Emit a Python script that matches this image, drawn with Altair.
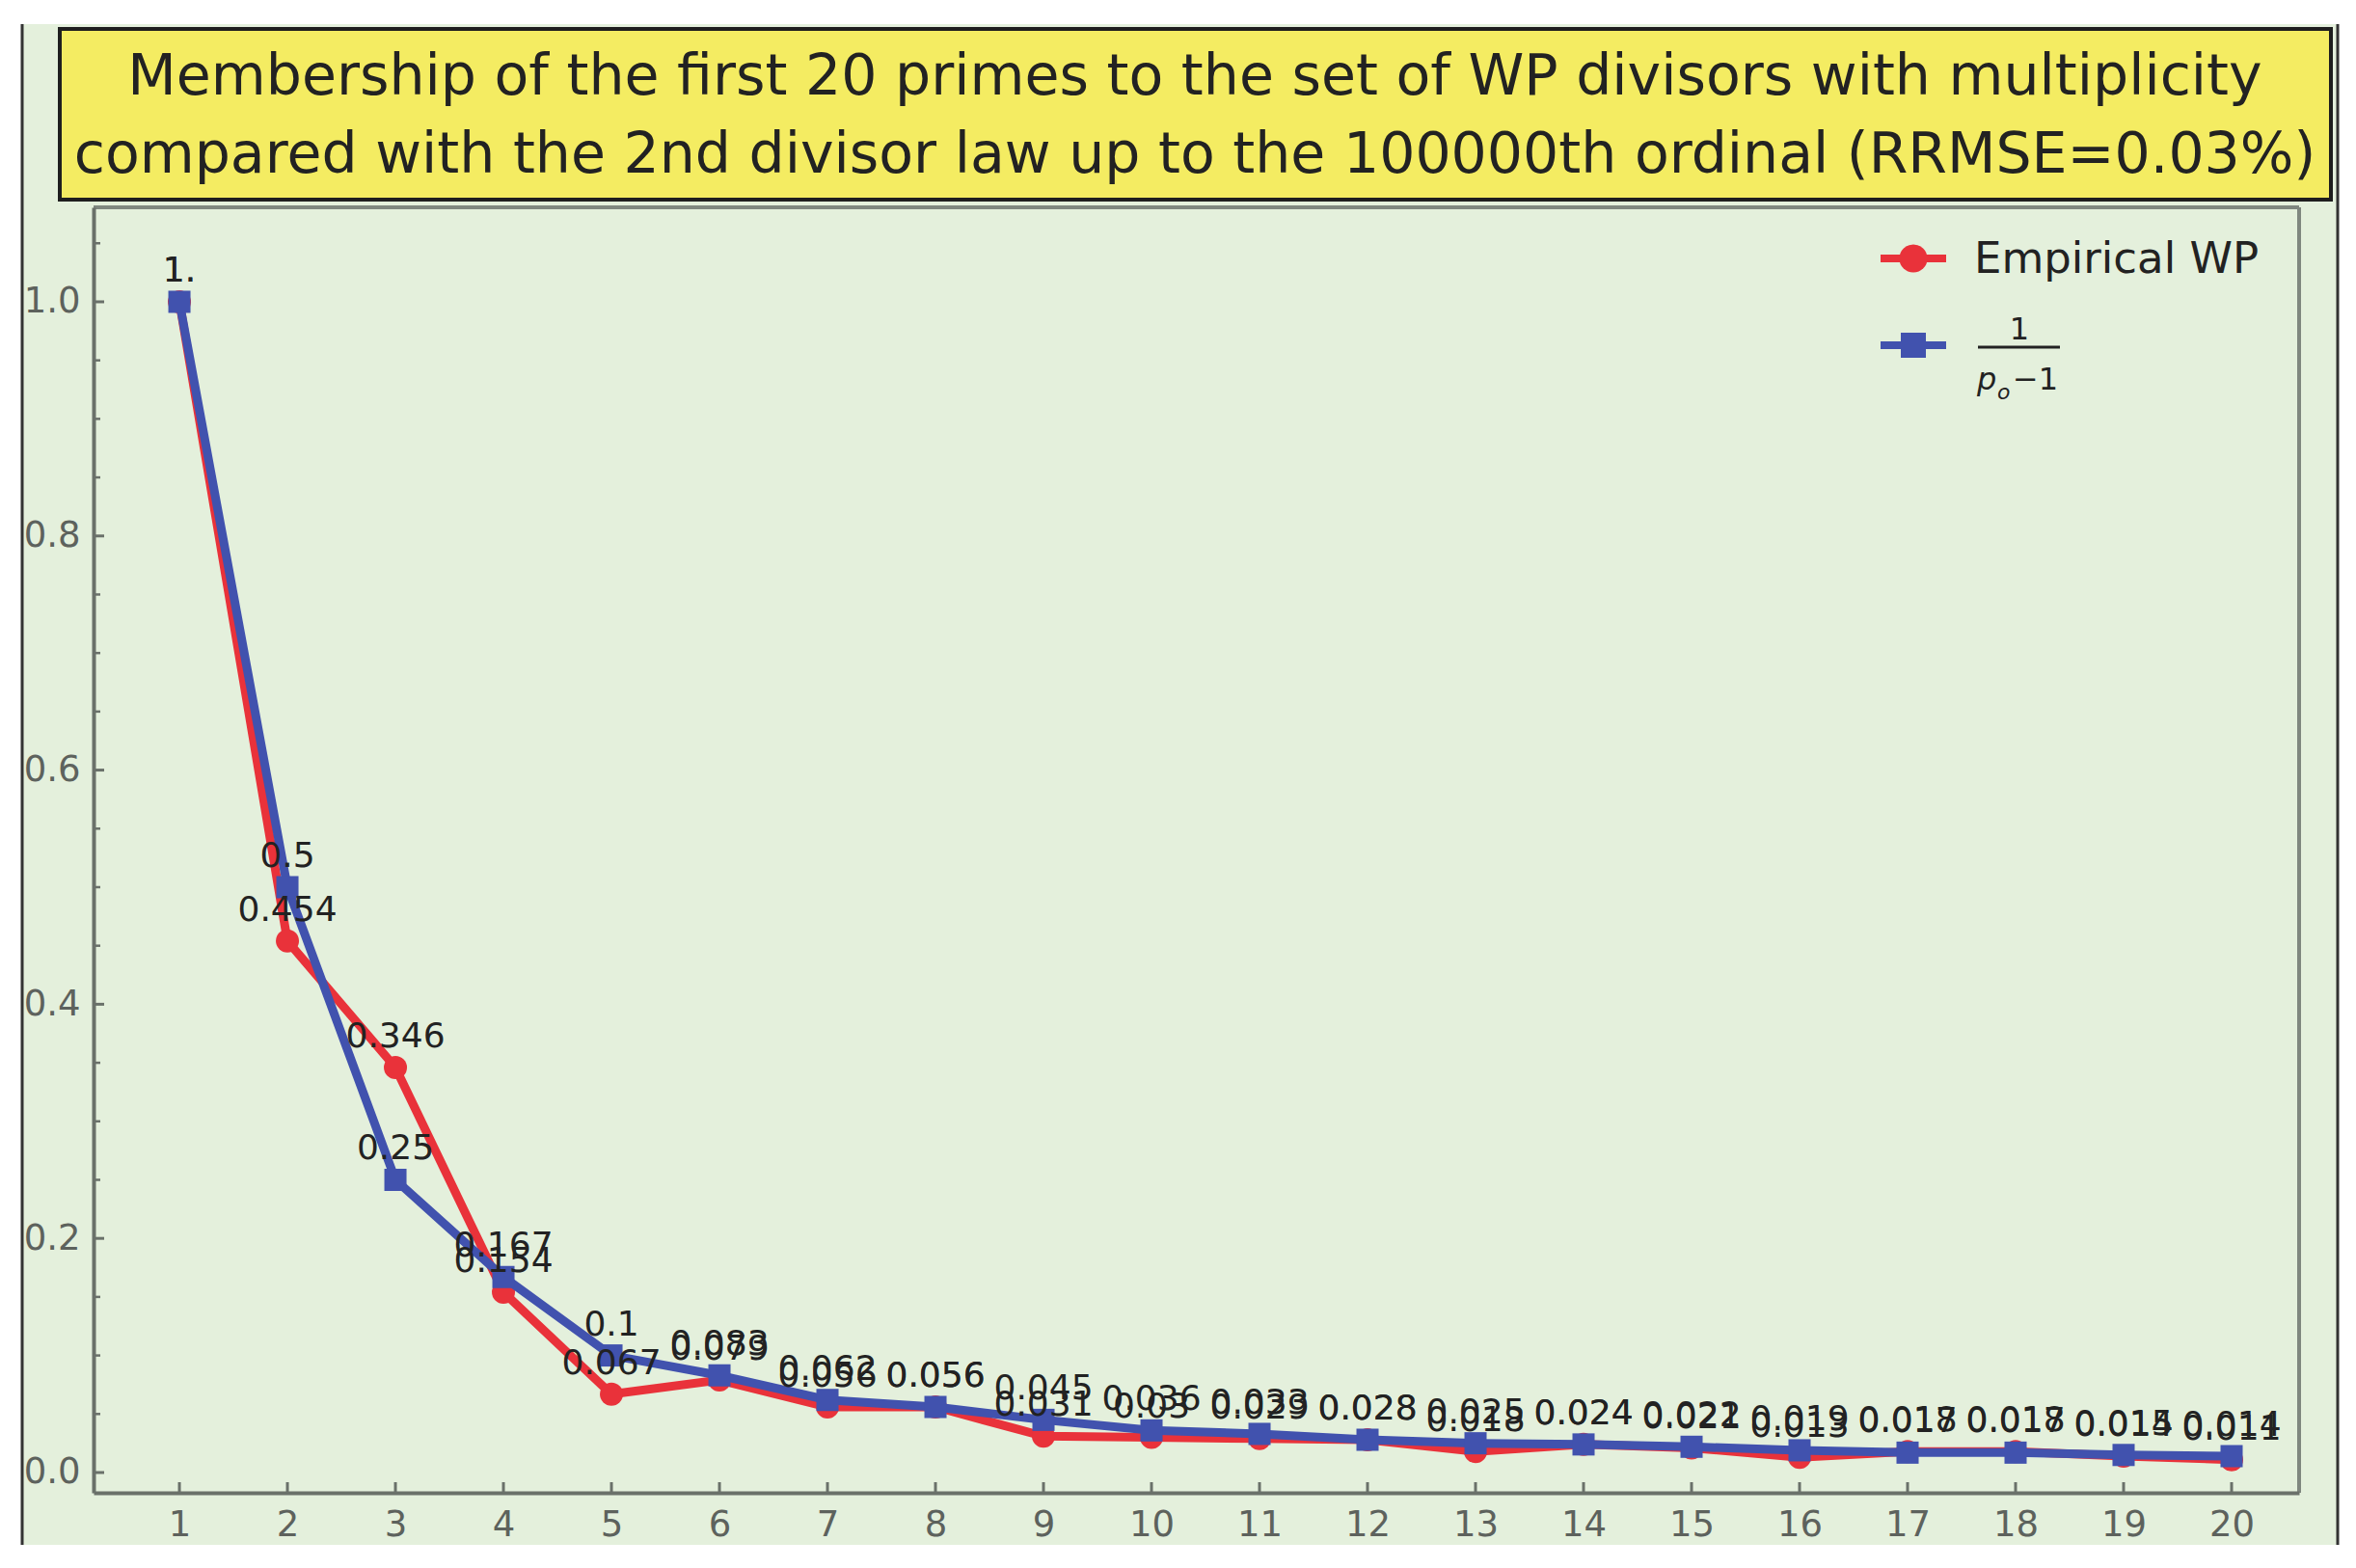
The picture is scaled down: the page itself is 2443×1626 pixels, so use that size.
import altair as alt
import pandas as pd

# ---------------- data ----------------
ordinals = list(range(1, 21))
empirical_wp = [1.0, 0.454, 0.346, 0.154, 0.067, 0.079, 0.056, 0.056, 0.031, 0.030,
                0.029, 0.028, 0.018, 0.024, 0.021, 0.013, 0.018, 0.018, 0.014, 0.011]
divisor_law = [1.0, 0.5, 0.25, 0.167, 0.1, 0.083, 0.062, 0.056, 0.045, 0.036,
               0.033, 0.028, 0.025, 0.024, 0.022, 0.019, 0.017, 0.017, 0.015, 0.014]
y_major = [0.0, 0.2, 0.4, 0.6, 0.8, 1.0]
y_minor = [0.05, 0.1, 0.15, 0.25, 0.3, 0.35, 0.45, 0.5, 0.55, 0.65, 0.7, 0.75,
           0.85, 0.9, 0.95, 1.05]
title_lines = ["Membership of the first 20 primes to the set of WP divisors with multiplicity",
               "compared with the 2nd divisor law up to the 100000th ordinal (RRMSE=0.03%)"]
legend_empirical = "Empirical WP"

# ---------------- style ----------------
RED = "#e9323a"
BLUE = "#4152ae"
GREEN = "#e4f0dc"
YELLOW = "#f4ec62"
TXT = "#222222"
AXC = "#6a716a"
LBL = "#5d625d"
FONT = "DejaVu Sans"
W, H = 2287, 1333
PAD = {"left": 89, "top": 207, "right": 48, "bottom": 60}


def fmt(v):
    return f"{v:.3f}".rstrip("0")


df_red = pd.DataFrame({"ordinal": ordinals, "value": empirical_wp})
df_red["label"] = df_red["value"].map(fmt)
df_blue = pd.DataFrame({"ordinal": ordinals, "value": divisor_law})
df_blue["label"] = df_blue["value"].map(fmt)

xs = alt.Scale(domain=[0.205, 20.625], nice=False, zero=False)
ys = alt.Scale(domain=[-0.0173, 1.0807], nice=False, zero=False)

xaxis = alt.Axis(values=ordinals, format="d", ticks=False, tickSize=0, labelPadding=15,
                 labelFontSize=37, labelFont=FONT, labelColor=LBL, domainColor=AXC,
                 domainWidth=4, grid=False, title=None, zindex=2, labelOverlap=False,
                 labelFlush=False)
yaxis = alt.Axis(values=y_major, format=".1f", ticks=False, tickSize=0, labelPadding=14,
                 labelFontSize=37, labelFont=FONT, labelColor=LBL, domainColor=AXC,
                 domainWidth=4, grid=False, title=None, zindex=2, labelOverlap=False,
                 labelFlush=False)

one = pd.DataFrame({"d": [0]})


def deco_rect(x, x2, y, y2, **kw):
    return alt.Chart(one).mark_rect(**kw).encode(
        x=alt.value(x), x2=alt.value(x2), y=alt.value(y), y2=alt.value(y2))


def deco_rule(x, x2, y, y2, color, width):
    return alt.Chart(one).mark_rule(color=color, strokeWidth=width).encode(
        x=alt.value(x), x2=alt.value(x2), y=alt.value(y), y2=alt.value(y2))


def deco_text(txt, x, y, size, align="center", style="normal", color=TXT):
    return alt.Chart(pd.DataFrame({"t": [txt]})).mark_text(
        font=FONT, fontSize=size, align=align, baseline="alphabetic", color=color,
        fontStyle=style).encode(x=alt.value(x), y=alt.value(y), text="t:N")


L, T = -PAD["left"], -PAD["top"]
R, B = W + PAD["right"], H + PAD["bottom"]
GL, GR, GT, GB = -74, 2327, -190, 1387

layers = []
# white page margins around the green panel, and its side borders
layers.append(deco_rect(L, GL, T, B, color="white"))
layers.append(deco_rect(GR, R, T, B, color="white"))
layers.append(deco_rect(L, R, T, GT, color="white"))
layers.append(deco_rect(L, R, GB, B, color="white"))
layers.append(deco_rule(GL, GL, GT, GB, "#333333", 3))
layers.append(deco_rule(GR, GR, GT, GB, "#333333", 3))
# title box
layers.append(deco_rect(-35, 2320, -185, -8, fill=YELLOW, stroke="#1e1e1e", strokeWidth=4))
layers.append(deco_text(title_lines[0], 1142, -117, 58.5))
layers.append(deco_text(title_lines[1], 1142, -36, 58.5))
# plot frame (top, right)
layers.append(deco_rule(0, W, 0, 0, "#7f877f", 4))
layers.append(deco_rule(W, W, 0, H, "#7f877f", 4))

# inward ticks
layers.append(alt.Chart(pd.DataFrame({"value": y_major})).mark_rule(color=AXC, strokeWidth=3).encode(
    y=alt.Y("value:Q", scale=ys, axis=yaxis), x=alt.value(0), x2=alt.value(11)))
layers.append(alt.Chart(pd.DataFrame({"value": y_minor})).mark_rule(color=AXC, strokeWidth=2.5).encode(
    y=alt.Y("value:Q", scale=ys, axis=yaxis), x=alt.value(0), x2=alt.value(7)))
layers.append(alt.Chart(pd.DataFrame({"ordinal": ordinals})).mark_rule(color=AXC, strokeWidth=3).encode(
    x=alt.X("ordinal:Q", scale=xs, axis=xaxis), y=alt.value(H), y2=alt.value(H - 11)))

# series
enc = dict(x=alt.X("ordinal:Q", scale=xs, axis=xaxis),
           y=alt.Y("value:Q", scale=ys, axis=yaxis))
layers.append(alt.Chart(df_red).mark_line(color=RED, strokeWidth=9).encode(**enc))
layers.append(alt.Chart(df_red).mark_point(shape="circle", filled=True, size=576, color=RED,
                                           opacity=1).encode(**enc))
layers.append(alt.Chart(df_blue).mark_line(color=BLUE, strokeWidth=9).encode(**enc))
layers.append(alt.Chart(df_blue).mark_point(shape="square", filled=True, size=529, color=BLUE,
                                            opacity=1).encode(**enc))
# value labels
layers.append(alt.Chart(df_red).mark_text(font=FONT, fontSize=36, color=TXT, dy=-32).encode(
    text="label:N", **enc))
layers.append(alt.Chart(df_blue).mark_text(font=FONT, fontSize=36, color=TXT, dy=-32).encode(
    text="label:N", **enc))

# legend
layers.append(deco_rule(1853, 1921, 53, 53, RED, 8))
layers.append(alt.Chart(one).mark_point(shape="circle", filled=True, size=850, color=RED,
                                        opacity=1).encode(x=alt.value(1887), y=alt.value(53)))
layers.append(deco_text(legend_empirical, 1950, 68, 45, align="left"))
layers.append(deco_rule(1853, 1921, 143, 143, BLUE, 8))
layers.append(alt.Chart(one).mark_point(shape="square", filled=True, size=676, color=BLUE,
                                        opacity=1).encode(x=alt.value(1887), y=alt.value(143)))
layers.append(deco_text("1", 1997, 137, 32))
layers.append(deco_rule(1954, 2039, 145, 145, TXT, 3))
layers.append(deco_text("p", 1953, 189, 32, align="left", style="italic"))
layers.append(deco_text("o", 1974, 199, 22, align="left", style="italic"))
layers.append(deco_text("\u22121", 1990, 189, 32, align="left"))

chart = alt.layer(*layers).properties(
    width=W, height=H,
    autosize=alt.AutoSizeParams(type="none"),
    padding=PAD,
    background=GREEN,
).configure_view(stroke=None, fill=None)

chart.save("out.html", embed_options={"renderer": "svg", "actions": False})
